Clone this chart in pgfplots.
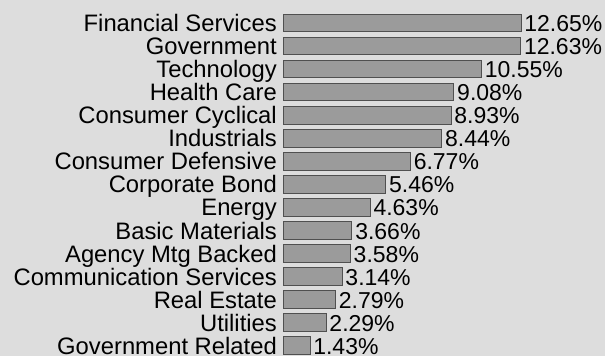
\documentclass[border=0pt]{standalone}
\usepackage{pgfplots}
\pgfplotsset{compat=1.18}
\usepackage{fontspec}
\setmainfont{Liberation Sans}
\definecolor{bg}{RGB}{221,221,221}
\definecolor{barfill}{RGB}{155,155,155}
\definecolor{baredge}{RGB}{80,80,80}
\begin{document}
\begin{tikzpicture}
\fill[bg] (0,0) rectangle (605bp,356bp);
\useasboundingbox (0,0) rectangle (605bp,356bp);
\begin{axis}[
  at={(283bp,-1.1bp)}, anchor=south west,
  scale only axis, width=301bp, height=345.75bp,
  xbar, bar width=17.7bp, bar shift=0pt,
  xmin=0, xmax=16, ymin=-0.5, ymax=14.5, y dir=reverse,
  clip=false,
  axis line style={draw=none},
  major tick length=0pt,
  xtick=\empty,
  ytick={0,...,14},
  yticklabels={Financial Services,Government,Technology,Health Care,Consumer Cyclical,Industrials,Consumer Defensive,Corporate Bond,Energy,Basic Materials,Agency Mtg Backed,Communication Services,Real Estate,Utilities,Government Related},
  yticklabel style={font=\fontsize{23.8bp}{24bp}\selectfont, anchor=base east, inner sep=0pt, xshift=-6bp, yshift=-8.7bp},
  /pgf/number format/assume math mode=true,
  nodes near coords={\pgfmathprintnumber[fixed,fixed zerofill,precision=2]{\pgfplotspointmeta}\%},
  nodes near coords style={font=\fontsize{23bp}{23bp}\selectfont, anchor=base west, inner sep=0pt, xshift=3bp, yshift=-8.7bp},
]
\addplot[fill=barfill, draw=baredge, line width=0.8bp] coordinates {
  (12.65,0) (12.63,1) (10.55,2) (9.08,3) (8.93,4) (8.44,5) (6.77,6)
  (5.46,7) (4.63,8) (3.66,9) (3.58,10) (3.14,11) (2.79,12) (2.29,13) (1.43,14)
};
\end{axis}
\end{tikzpicture}
\end{document}
